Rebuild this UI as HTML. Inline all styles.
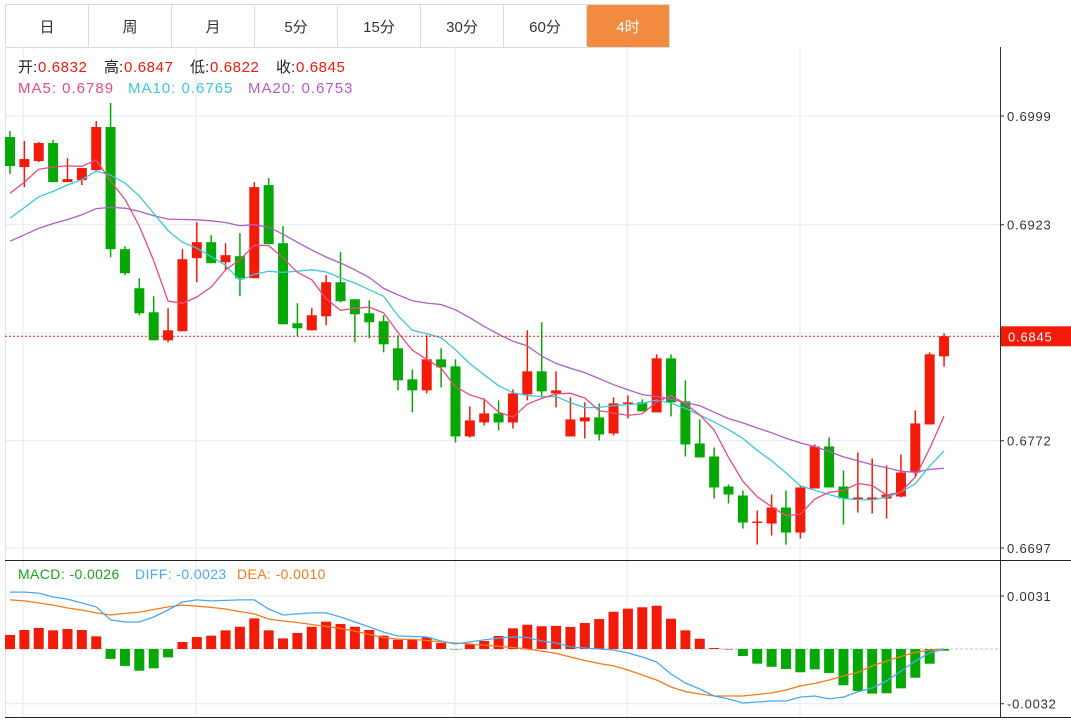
<!DOCTYPE html>
<html><head><meta charset="utf-8">
<style>
body{margin:0;background:#fff;font-family:"Liberation Sans","Noto Sans CJK SC",sans-serif;}
#wrap{position:relative;width:1071px;height:722px;overflow:hidden;background:#fff;}
.tabs{position:absolute;left:5px;top:4px;height:42px;display:flex;border:1px solid #dcdcdc;border-right:none;}
.tab{width:83px;height:42px;border-right:1px solid #dcdcdc;display:flex;align-items:center;justify-content:center;font-size:15px;color:#333;box-sizing:border-box;}
.tab.active{background:#f28b40;color:#fff;border-radius:2px;}
svg{position:absolute;left:0;top:0;}
</style></head><body>
<div id="wrap">
<div class="tabs">
<div class="tab">日</div>
<div class="tab">周</div>
<div class="tab">月</div>
<div class="tab">5分</div>
<div class="tab">15分</div>
<div class="tab">30分</div>
<div class="tab">60分</div>
<div class="tab active">4时</div>
</div>
<svg id="chart" width="1071" height="722" style="top:0"></svg>
</div>
<script>
const opens=[0.69843,0.69633,0.69675,0.69801,0.69528,0.69542,0.69612,0.69913,0.69059,0.68786,0.68618,0.68422,0.68485,0.68996,0.69108,0.68968,0.69010,0.68856,0.69507,0.69101,0.68541,0.68492,0.68590,0.68828,0.68709,0.68611,0.68555,0.68366,0.68149,0.68072,0.68289,0.68240,0.67750,0.67848,0.67911,0.67848,0.68044,0.68205,0.68051,0.67750,0.67855,0.67883,0.67771,0.67981,0.67988,0.67918,0.68296,0.67995,0.67701,0.67610,0.67400,0.67337,0.67148,0.67141,0.67253,0.67078,0.67386,0.67680,0.67400,0.67316,0.67309,0.67316,0.67330,0.67498,0.67834,0.68310];
const highs=[0.69885,0.69815,0.69808,0.69822,0.69696,0.69626,0.69955,0.70081,0.69080,0.68856,0.68730,0.68646,0.69059,0.69248,0.69157,0.69101,0.69171,0.69528,0.69556,0.69220,0.68681,0.68646,0.68877,0.69038,0.68709,0.68702,0.68597,0.68457,0.68219,0.68457,0.68366,0.68289,0.67960,0.68016,0.68002,0.68079,0.68492,0.68548,0.68205,0.68023,0.67988,0.67981,0.68023,0.68037,0.68009,0.68324,0.68324,0.68142,0.67869,0.67673,0.67414,0.67372,0.67232,0.67344,0.67372,0.67407,0.67694,0.67743,0.67512,0.67638,0.67596,0.67547,0.67624,0.67932,0.68338,0.68471];
const lows=[0.69584,0.69493,0.69668,0.69528,0.69528,0.69507,0.69605,0.69003,0.68877,0.68597,0.68422,0.68408,0.68485,0.68828,0.68961,0.68912,0.68730,0.68856,0.69094,0.68534,0.68450,0.68492,0.68527,0.68688,0.68408,0.68436,0.68338,0.68072,0.67918,0.68051,0.68093,0.67708,0.67743,0.67827,0.67792,0.67806,0.68002,0.68023,0.67953,0.67750,0.67736,0.67722,0.67757,0.67876,0.67925,0.67918,0.67890,0.67610,0.67603,0.67316,0.67281,0.67106,0.66994,0.67057,0.66994,0.67036,0.67386,0.67393,0.67134,0.67218,0.67211,0.67176,0.67323,0.67468,0.67834,0.68238];
const closes=[0.69640,0.69689,0.69801,0.69528,0.69549,0.69626,0.69913,0.69059,0.68891,0.68611,0.68422,0.68492,0.68989,0.69108,0.68961,0.69017,0.68856,0.69493,0.69094,0.68534,0.68506,0.68597,0.68828,0.68695,0.68604,0.68548,0.68394,0.68142,0.68072,0.68289,0.68233,0.67750,0.67862,0.67911,0.67848,0.68051,0.68205,0.68065,0.68072,0.67869,0.67883,0.67764,0.67981,0.67988,0.67925,0.68296,0.67988,0.67694,0.67603,0.67393,0.67344,0.67148,0.67155,0.67253,0.67078,0.67393,0.67680,0.67393,0.67316,0.67323,0.67323,0.67344,0.67498,0.67841,0.68324,0.68450];
const historyCloses=[0.6880,0.6890,0.6885,0.6900,0.6895,0.6905,0.6890,0.6900,0.6905,0.6904,0.6895,0.6905,0.6915,0.6910,0.6926,0.6930,0.6935,0.6945,0.6951];
const macdHist=[0.00082,0.00111,0.00123,0.00109,0.00117,0.00111,0.00074,-0.00058,-0.00099,-0.00127,-0.00113,-0.00049,0.00041,0.00070,0.00078,0.00109,0.00130,0.00179,0.00109,0.00062,0.00094,0.00130,0.00160,0.00146,0.00130,0.00111,0.00078,0.00054,0.00054,0.00068,0.00035,-0.00002,0.00027,0.00047,0.00076,0.00121,0.00142,0.00133,0.00135,0.00129,0.00152,0.00175,0.00218,0.00236,0.00244,0.00253,0.00177,0.00109,0.00060,0.00006,0.00000,-0.00041,-0.00086,-0.00104,-0.00117,-0.00136,-0.00119,-0.00140,-0.00212,-0.00246,-0.00261,-0.00259,-0.00230,-0.00168,-0.00086,-0.00010];
const diffVals=[0.00333,0.00333,0.00327,0.00304,0.00292,0.00269,0.00246,0.00170,0.00158,0.00158,0.00187,0.00228,0.00275,0.00287,0.00281,0.00284,0.00287,0.00287,0.00234,0.00199,0.00205,0.00211,0.00211,0.00187,0.00158,0.00129,0.00099,0.00076,0.00073,0.00070,0.00047,0.00029,0.00041,0.00053,0.00064,0.00070,0.00067,0.00047,0.00035,0.00012,0.00006,0.00000,-0.00006,-0.00023,-0.00047,-0.00076,-0.00146,-0.00199,-0.00234,-0.00275,-0.00292,-0.00316,-0.00310,-0.00304,-0.00304,-0.00281,-0.00275,-0.00292,-0.00281,-0.00251,-0.00228,-0.00187,-0.00129,-0.00070,-0.00023,0.00000];
const deaVals=[0.00287,0.00281,0.00269,0.00257,0.00240,0.00228,0.00211,0.00199,0.00208,0.00216,0.00231,0.00246,0.00257,0.00251,0.00243,0.00234,0.00219,0.00205,0.00175,0.00164,0.00155,0.00143,0.00132,0.00120,0.00105,0.00085,0.00067,0.00058,0.00056,0.00050,0.00041,0.00035,0.00029,0.00023,0.00015,0.00009,0.00000,-0.00012,-0.00026,-0.00047,-0.00067,-0.00085,-0.00099,-0.00123,-0.00152,-0.00181,-0.00222,-0.00249,-0.00263,-0.00275,-0.00275,-0.00275,-0.00266,-0.00257,-0.00240,-0.00216,-0.00202,-0.00181,-0.00158,-0.00137,-0.00099,-0.00070,-0.00044,-0.00020,-0.00006,0.00000];
const priceTicks=[0.6999,0.6923,0.6772,0.6697];
const macdTicks=[0.0031,-0.0032];
const lastPrice=0.6845;

const NS='http://www.w3.org/2000/svg';
const svg=document.getElementById('chart');
const X0=10,DX=14.37;
const xOf=i=>X0+i*DX;
const yP=p=>116+(0.6999-p)*14305;
const yM=v=>649-v*17100;
const RED='#f21a08',GREEN='#06a806';
function mk(tag,attrs,name,inter){const e=document.createElementNS(NS,tag);for(const k in attrs)e.setAttribute(k,attrs[k]);


svg.appendChild(e);return e;}
function txt(x,y,s,fill,name,size,ls){const t=mk('text',{x:x,y:y,fill:fill,'font-size':size||14,'letter-spacing':ls||0,'font-family':'"Liberation Sans","Noto Sans CJK SC",sans-serif'},name,false);t.textContent=s;return t;}
const GRID='#e3ebf2';
[23,196,455,627,800].forEach(x=>{mk('line',{x1:x,y1:47,x2:x,y2:718,stroke:GRID,'stroke-width':1},'v-gridline',false);});
priceTicks.forEach(p=>{mk('line',{x1:5,y1:yP(p),x2:1000,y2:yP(p),stroke:GRID,'stroke-width':1},'h-gridline',false);});
mk('line',{x1:5,y1:333,x2:1000,y2:333,stroke:GRID,'stroke-width':1},'h-gridline',false);
macdTicks.forEach(v=>{mk('line',{x1:5,y1:yM(v),x2:1000,y2:yM(v),stroke:GRID,'stroke-width':1},'macd-gridline',false);});
mk('line',{x1:5.5,y1:47,x2:5.5,y2:718,stroke:'#dde4ea'},'left-border',false);
mk('line',{x1:1000.5,y1:47,x2:1000.5,y2:718,stroke:'#333'},'y-axis-line',false);
mk('line',{x1:5,y1:560.5,x2:1071,y2:560.5,stroke:'#222'},'panel-divider',false);
mk('line',{x1:5,y1:717.5,x2:1071,y2:717.5,stroke:'#222'},'bottom-axis-line',false);
priceTicks.forEach(p=>{mk('line',{x1:1000,y1:yP(p),x2:1004,y2:yP(p),stroke:'#333'},'y-tick',false);txt(1007,yP(p)+5,p.toFixed(4),'#333','y-tick-label',13,0.8);});
macdTicks.forEach(v=>{mk('line',{x1:1000,y1:yM(v),x2:1004,y2:yM(v),stroke:'#333'},'macd-tick',false);txt(1007,yM(v)+5,v.toFixed(4),'#333','macd-tick-label',13,0.8);});
const all=historyCloses.concat(closes);
function ma(n){return closes.map((c,i)=>{const j=i+historyCloses.length;let s=0;for(let k=j-n+1;k<=j;k++)s+=all[k];return s/n;});}
function line(vals,yf,color,name){mk('polyline',{points:vals.map((v,i)=>xOf(i).toFixed(1)+','+yf(v).toFixed(1)).join(' '),fill:'none',stroke:color,'stroke-width':1.3},name,false);}
closes.forEach((c,i)=>{const o=opens[i],up=c>=o,col=up?RED:GREEN,x=xOf(i);
mk('line',{x1:x,y1:yP(highs[i]),x2:x,y2:yP(lows[i]),stroke:col,'stroke-width':1.5},'candle-wick',false);
const t=yP(Math.max(o,c)),b=yP(Math.min(o,c));
mk('rect',{x:x-5,y:t,width:10,height:Math.max(1.5,b-t),fill:col},'candle-body',true);});
line(ma(20),yP,'#b05ec8','ma20-line');
line(ma(10),yP,'#3ec6e0','ma10-line');
line(ma(5),yP,'#ea4b80','ma5-line');
mk('line',{x1:5,y1:yP(lastPrice),x2:1000,y2:yP(lastPrice),stroke:RED,'stroke-dasharray':'2,2','stroke-width':1},'last-price-line',false);
mk('rect',{x:1001,y:yP(lastPrice)-10,width:70,height:20,fill:RED},'last-price-tag',false);
txt(1008,yP(lastPrice)+5,lastPrice.toFixed(4),'#fff','last-price-label',13,0.8);
mk('line',{x1:5,y1:yM(0),x2:1000,y2:yM(0),stroke:'#a9cbe6','stroke-dasharray':'3,2'},'macd-zero-line',false);
macdHist.forEach((v,i)=>{const x=xOf(i),y0=yM(0),y1=yM(v);
mk('rect',{x:x-5,y:Math.min(y0,y1),width:10,height:Math.max(0.5,Math.abs(y1-y0)),fill:v>=0?RED:GREEN},'macd-bar',false);});
line(deaVals,yM,'#f57a1a','dea-line');
line(diffVals,yM,'#4aa8f2','diff-line');
let hx=18;
[['开:','0.6832'],['高:','0.6847'],['低:','0.6822'],['收:','0.6845']].forEach(([a,b])=>{txt(hx,72,a,'#222','ohlc-label',15);txt(hx+20,72,b,RED,'ohlc-value',15,0.6);hx+=86;});
txt(18,93,'MA5: 0.6789','#ea4b80','ma5-legend',15,1);
txt(128,93,'MA10: 0.6765','#3ec6e0','ma10-legend',15,1);
txt(248,93,'MA20: 0.6753','#b05ec8','ma20-legend',15,1);
txt(18,579,'MACD: -0.0026','#1aa51a','macd-legend',14,0.4);
txt(135,579,'DIFF: -0.0023','#4aa8f2','diff-legend',14,0.4);
txt(237,579,'DEA: -0.0010','#f57a1a','dea-legend',14,0.4);
</script>
</body></html>
